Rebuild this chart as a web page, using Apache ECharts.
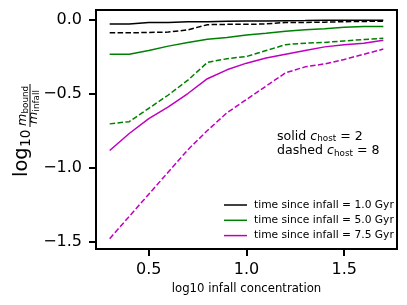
<!DOCTYPE html>
<html>
<head>
<meta charset="utf-8">
<script src="https://cdn.jsdelivr.net/npm/echarts@6/dist/echarts.min.js"></script>
<style>
html,body{margin:0;padding:0;background:#fff;}
#chart{width:407px;height:305px;}
</style>
</head>
<body>
<div id="chart"></div>
<script>
// ---- data ----
const xValues = [0.3, 0.4, 0.5, 0.6, 0.7, 0.8, 0.9, 1.0, 1.1, 1.2, 1.3, 1.4, 1.5, 1.6, 1.7];
const t1_c2 = [-0.03, -0.03, -0.02, -0.02, -0.015, -0.015, -0.012, -0.01, -0.01, -0.008, -0.007, -0.005, -0.005, -0.005, -0.005];
const t1_c8 = [-0.09, -0.09, -0.088, -0.085, -0.07, -0.035, -0.033, -0.033, -0.03, -0.02, -0.02, -0.018, -0.015, -0.013, -0.012];
const t5_c2 = [-0.235, -0.235, -0.21, -0.18, -0.155, -0.133, -0.122, -0.105, -0.093, -0.08, -0.07, -0.062, -0.053, -0.048, -0.047];
const t5_c8 = [-0.705, -0.69, -0.6, -0.51, -0.41, -0.29, -0.265, -0.25, -0.21, -0.17, -0.16, -0.155, -0.145, -0.135, -0.127];
const t75_c2 = [-0.885, -0.77, -0.67, -0.59, -0.5, -0.4, -0.34, -0.295, -0.26, -0.235, -0.21, -0.185, -0.17, -0.16, -0.14];
const t75_c8 = [-1.48, -1.33, -1.18, -1.03, -0.88, -0.75, -0.63, -0.54, -0.45, -0.36, -0.32, -0.3, -0.27, -0.235, -0.2];
const legendNames = ['time since infall = 1.0 Gyr', 'time since infall = 5.0 Gyr', 'time since infall = 7.5 Gyr'];
const xTicks = [0.5, 1.0, 1.5];
const yTicks = [-1.5, -1.0, -0.5, 0.0];
const xTitle = 'log10 infall concentration';

const FONT = 'DejaVu Sans';
const colors = ['#000000', '#008000', '#bf00bf'];
const pairs = (ys) => xValues.map((x, i) => [x, ys[i]]);
const fmt = (v) => (v < 0 ? '\u2212' : '') + Math.abs(v).toFixed(1);

function line(name, ys, color, dashed) {
  return {
    name: name, type: 'line', data: pairs(ys), showSymbol: false, symbol: 'none',
    silent: true, animation: false, clip: true,
    lineStyle: { color: color, width: 1.5, type: dashed ? [5.5, 2.4] : 'solid', cap: 'butt' },
    itemStyle: { color: color }
  };
}

function txt(str, lx, mid, font) {
  return { type: 'text', x: lx, y: 0, style: { text: str, font: font, fill: '#000', align: 'left', verticalAlign: 'middle', y: mid } };
}

const chart = echarts.init(document.getElementById('chart'), null, { renderer: 'canvas' });
chart.setOption({
  animation: false,
  backgroundColor: '#fff',
  grid: { left: 96, right: 10, top: 10, bottom: 56, show: true, borderColor: '#000', borderWidth: 2, backgroundColor: 'transparent' },
  xAxis: {
    type: 'value', min: 0.23, max: 1.77,
    axisLine: { show: false, onZero: false },
    splitLine: { show: false },
    axisTick: { show: true, inside: false, length: 7, lineStyle: { color: '#000', width: 2 }, customValues: xTicks },
    axisLabel: { customValues: xTicks, formatter: fmt, color: '#000', fontFamily: FONT, fontSize: 16, margin: 13 },
    name: xTitle, nameLocation: 'middle', nameGap: 29,
    nameTextStyle: { color: '#000', fontFamily: FONT, fontSize: 11.7 }
  },
  yAxis: {
    type: 'value', min: -1.55, max: 0.064,
    axisLine: { show: false, onZero: false },
    splitLine: { show: false },
    axisTick: { show: true, inside: false, length: 7, lineStyle: { color: '#000', width: 2 }, customValues: yTicks },
    axisLabel: { customValues: yTicks, formatter: fmt, color: '#000', fontFamily: FONT, fontSize: 16, margin: 14 }
  },
  legend: {
    data: legendNames, orient: 'vertical', left: 219, top: 194,
    itemWidth: 23, itemHeight: 1.5, icon: 'rect', itemGap: 3.3,
    textStyle: { color: '#000', fontFamily: FONT, fontSize: 10.7, lineHeight: 12, padding: [0, 0, 0, 2] },
    selectedMode: false
  },
  series: [
    line(legendNames[0], t1_c2, colors[0], false),
    line('c8 1.0', t1_c8, colors[0], true),
    line(legendNames[1], t5_c2, colors[1], false),
    line('c8 5.0', t5_c8, colors[1], true),
    line(legendNames[2], t75_c2, colors[2], false),
    line('c8 7.5', t75_c8, colors[2], true)
  ],
  graphic: [
    {
      type: 'group', x: 28.5, y: 177, rotation: Math.PI / 2, silent: true,
      children: [
        txt('log', 0, -6.7, '19.5px "DejaVu Sans"'),
        txt('10', 30, -2.0, '13.6px "DejaVu Sans"'),
        txt('m', 51, -5.4, 'italic 12.6px "DejaVu Sans"'),
        txt('bound', 63.5, -2.3, '8.8px "DejaVu Sans"'),
        { type: 'line', shape: { x1: 50, y1: 1.5, x2: 93, y2: 1.5 }, style: { stroke: '#000', lineWidth: 1 } },
        txt('m', 53, 5.6, 'italic 12.6px "DejaVu Sans"'),
        txt('infall', 65.5, 8.6, '8.8px "DejaVu Sans"')
      ]
    },
    {
      type: 'text', left: 277, top: 129, silent: true,
      style: {
        text: 'solid {i|c}{s|host}{n| = 2}\ndashed {i|c}{s|host}{n| = 8}',
        font: '12.6px "DejaVu Sans"', fill: '#000', lineHeight: 14.5,
        rich: {
          i: { fontFamily: FONT, fontSize: 12.6, fontStyle: 'italic', fill: '#000', lineHeight: 14.5 },
          s: { fontFamily: FONT, fontSize: 8.8, fill: '#000', verticalAlign: 'bottom', lineHeight: 12 },
          n: { fontFamily: FONT, fontSize: 12.6, fill: '#000', lineHeight: 14.5 }
        }
      }
    }
  ]
});
</script>
</body>
</html>
